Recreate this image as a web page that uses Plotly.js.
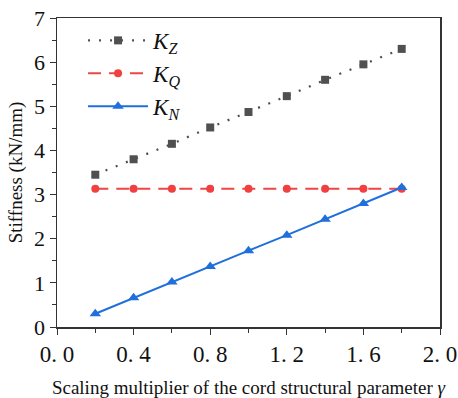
<!DOCTYPE html>
<html><head><meta charset="utf-8">
<script src="https://cdn.plot.ly/plotly-3.0.1.min.js"></script>
<style>body{margin:0;background:#fff}</style>
</head><body>
<div id="chart" style="width:458px;height:398px"></div>
<script>
const gamma = [0.2, 0.4, 0.6, 0.8, 1.0, 1.2, 1.4, 1.6, 1.8];
const KZ = [3.45, 3.80, 4.15, 4.52, 4.87, 5.23, 5.60, 5.95, 6.30];
const KQ = [3.13, 3.13, 3.13, 3.13, 3.13, 3.13, 3.13, 3.13, 3.13];
const KN = [0.30, 0.66, 1.02, 1.37, 1.73, 2.08, 2.44, 2.80, 3.16];
const xTickVals = [0.0, 0.4, 0.8, 1.2, 1.6, 2.0];
const xTickText = ['0. 0', '0. 4', '0. 8', '1. 2', '1. 6', '2. 0'];
const yTickVals = [0, 1, 2, 3, 4, 5, 6, 7];

const serif = 'Liberation Serif, Times New Roman, serif';
const traces = [
  {x: gamma, y: KZ, name: '<i>K</i><sub><i>Z</i></sub>', mode: 'lines+markers',
   line: {color: '#505050', dash: '2px,9px', width: 2.2}, marker: {symbol: 'square', size: 8, color: '#505050'}},
  {x: gamma, y: KQ, name: '<i>K</i><sub><i>Q</i></sub>', mode: 'lines+markers',
   line: {color: '#f04545', dash: '13px,8px', width: 2}, marker: {symbol: 'circle', size: 8, color: '#f04040'}},
  {x: gamma, y: KN, name: '<i>K</i><sub><i>N</i></sub>', mode: 'lines+markers',
   line: {color: '#1f6fdc', width: 2}, marker: {symbol: 'triangle-up', size: 10, color: '#1f6fdc'}}
];
const layout = {
  width: 458, height: 398,
  margin: {l: 57, r: 18, t: 18, b: 71},
  paper_bgcolor: '#fff', plot_bgcolor: '#fff',
  showlegend: true,
  legend: {x: 0.068, y: 0.997, xanchor: 'left', yanchor: 'top', bgcolor: 'rgba(0,0,0,0)',
           font: {family: serif, size: 23, color: '#111'}, itemwidth: 60, tracegroupgap: 0},
  xaxis: {range: [0, 2.0], tickvals: xTickVals, ticktext: xTickText, ticks: 'outside', ticklen: 6,
          tickcolor: '#333', showline: true, linecolor: '#333', linewidth: 1.5, mirror: true,
          showgrid: false, zeroline: false,
          minor: {dtick: 0.2, ticks: 'outside', ticklen: 4, tickcolor: '#333'},
          tickfont: {family: serif, size: 23, color: '#111'},
          title: {text: 'Scaling multiplier of the cord structural parameter <i>γ</i>',
                  font: {family: serif, size: 19, color: '#111'}, standoff: 14}},
  yaxis: {range: [0, 7], tickvals: yTickVals, ticks: 'outside', ticklen: 6,
          tickcolor: '#333', showline: true, linecolor: '#333', linewidth: 1.5, mirror: true,
          showgrid: false, zeroline: false,
          minor: {dtick: 0.5, ticks: 'outside', ticklen: 4, tickcolor: '#333'},
          tickfont: {family: serif, size: 22, color: '#111'},
          title: {text: 'Stiffness (kN/mm)', font: {family: serif, size: 19, color: '#111'}, standoff: 6}}
};
Plotly.newPlot('chart', traces, layout, {displayModeBar: false, staticPlot: true});
</script>
</body></html>
